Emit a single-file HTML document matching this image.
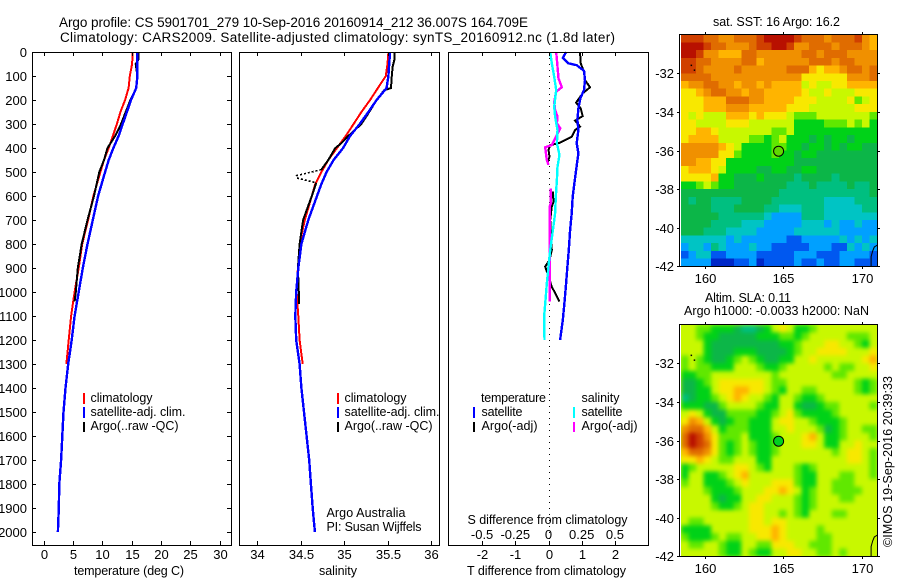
<!DOCTYPE html>
<html lang="en">
<head>
<meta charset="utf-8">
<title>Argo profile</title>
<style>
html,body{margin:0;padding:0;background:#fff;}
svg{display:block;}
text{font-family:"Liberation Sans",sans-serif;font-size:12.5px;fill:#000;}
.title{font-size:13.5px;}
.tick{font-size:13px;}
</style>
</head>
<body>
<svg id="chart" xmlns="http://www.w3.org/2000/svg" width="900" height="580" viewBox="0 0 900 580">
  <defs>
    <filter id="sla-blur" x="-5%" y="-5%" width="110%" height="110%" color-interpolation-filters="sRGB"><feGaussianBlur stdDeviation="2"/></filter>
    <clipPath id="clip-sst"><rect x="681" y="35" width="196" height="231"/></clipPath>
    <clipPath id="clip-sla"><rect x="681" y="325" width="196" height="231"/></clipPath>
  </defs>
  <text class="title" x="59" y="27" textLength="469">Argo profile: CS 5901701_279 10-Sep-2016 20160914_212 36.007S 164.709E</text>
  <text class="title" x="60" y="42" textLength="555">Climatology: CARS2009. Satellite-adjusted climatology: synTS_20160912.nc (1.8d later)</text>

  <g id="profile-layer"></g>
  <g id="map-layer"></g>

  <text x="74" y="575" textLength="110">temperature (deg C)</text>
  <text x="319" y="575" textLength="38">salinity</text>
  <text x="467" y="575" textLength="159">T difference from climatology</text>
  <text x="467.5" y="524" textLength="160">S difference from climatology</text>

  <g>
    <rect x="83" y="393" width="2" height="11" fill="#ff0000"/>
    <rect x="83" y="407" width="2" height="11" fill="#0000ff"/>
    <rect x="83" y="422" width="2" height="10" fill="#000"/>
    <text x="90.5" y="402" textLength="62">climatology</text>
    <text x="90.5" y="416" textLength="95">satellite-adj. clim.</text>
    <text x="90.5" y="430" textLength="88">Argo(..raw -QC)</text>
  </g>
  <g>
    <rect x="337" y="393" width="2" height="11" fill="#ff0000"/>
    <rect x="337" y="407" width="2" height="11" fill="#0000ff"/>
    <rect x="337" y="422" width="2" height="10" fill="#000"/>
    <text x="344.5" y="402" textLength="62">climatology</text>
    <text x="344.5" y="416" textLength="95">satellite-adj. clim.</text>
    <text x="344.5" y="430" textLength="88">Argo(..raw -QC)</text>
  </g>
  <text x="326.5" y="517" textLength="79">Argo Australia</text>
  <text x="326.5" y="531" textLength="95">PI: Susan Wijffels</text>
  <g>
    <text x="481" y="402" textLength="65">temperature</text>
    <text x="581.5" y="402" textLength="38">salinity</text>
    <rect x="473" y="407" width="2" height="11" fill="#0000ff"/>
    <rect x="473" y="422" width="2" height="10" fill="#000"/>
    <rect x="573" y="407" width="2" height="11" fill="#00ffff"/>
    <rect x="573" y="422" width="2" height="10" fill="#ff00ff"/>
    <text x="481.5" y="416" textLength="41">satellite</text>
    <text x="481.5" y="430" textLength="56">Argo(-adj)</text>
    <text x="581.5" y="416" textLength="41">satellite</text>
    <text x="581.5" y="430" textLength="56">Argo(-adj)</text>
  </g>

  <text x="713" y="26" textLength="127">sat. SST: 16 Argo: 16.2</text>
  <text x="705" y="302" textLength="86">Altim. SLA: 0.11</text>
  <text x="684" y="315" textLength="185">Argo h1000: -0.0033 h2000: NaN</text>
  <text transform="translate(892,547) rotate(-90)" textLength="171">©IMOS 19-Sep-2016 20:39:33</text>
</svg>

<script>
// ---------- Temperature panel data ----------
const climDepth = [0,50,100,150,200,250,300,350,400,450,500,550,600,700,800,900,1000,1100,1200,1300];
const climTemp = [15.2,15.1,14.7,14.5,13.9,13.1,12.5,11.8,11.1,10.3,9.7,9.1,8.5,7.6,6.6,6.0,5.3,4.7,4.3,3.9];
const climSal = [35.51,35.50,35.48,35.39,35.30,35.20,35.11,35.02,34.92,34.82,34.74,34.67,34.63,34.55,34.49,34.47,34.455,34.475,34.49,34.525];

const satDepth = [0,50,100,150,200,250,300,350,400,450,500,550,600,700,800,900,1000,1100,1200,1300,1400,1500,1600,1700,1800,1900,2000];
const satTemp = [16.0,16.0,16.0,15.8,14.9,14.2,13.5,12.8,11.9,11.1,10.5,9.9,9.3,8.4,7.5,6.7,6.0,5.3,4.8,4.2,3.75,3.4,3.2,3.0,2.7,2.6,2.45];
const satSal = [35.53,35.52,35.51,35.49,35.375,35.28,35.18,35.07,34.99,34.88,34.80,34.74,34.69,34.59,34.51,34.475,34.45,34.44,34.45,34.49,34.51,34.54,34.57,34.60,34.62,34.64,34.665];

const argoTempDepth = [0,30,50,100,150,200,250,300,350,400,450,500,600,700,800,900,1000,1040];
const argoTemp = [16.2,16.2,15.7,16.0,15.8,14.8,14.0,13.2,12.2,10.9,10.3,9.5,8.6,7.5,6.5,5.85,5.5,5.3];

const argoSalDepthA = [0,30,60,100,150,160,200,250,300,350,380,400,450,490];
const argoSalA = [35.58,35.58,35.56,35.55,35.54,35.46,35.375,35.29,35.20,35.05,34.97,34.90,34.82,34.74];
const argoSalSpikeDepth = [490,515,525,545];
const argoSalSpike = [34.74,34.455,34.46,34.68];
const argoSalDepthB = [545,600,700,800,900,1000,1050];
const argoSalB = [34.68,34.63,34.53,34.49,34.47,34.48,34.485];

// ---------- Difference panel data ----------
const dSatTDepth = [0,25,47,55,78,117,158,193,235,283,325,380,422,492,547,603,672,742,825,894,964,1047,1117,1200];
const dSatT = [0.53,0.43,0.60,0.85,1.07,1.10,1.07,0.96,0.90,0.87,0.90,0.85,0.90,0.83,0.78,0.73,0.70,0.65,0.61,0.57,0.53,0.48,0.43,0.35];
const dSatSDepth = [0,47,103,158,228,269,325,380,429,478,533,603,672,742,825,894,964,1019,1103,1200];
const dSatS = [0.013,0.025,0.043,0.058,0.043,0.05,0.068,0.063,0.083,0.068,0.063,0.055,0.05,0.033,0.013,0,-0.013,-0.02,-0.033,-0.03];
const dArgoTDepthA = [0,47,82,117,147,172,211,235,267,286,311,325,353,378,388,408,436,464];
const dArgoTA = [0.95,0.97,1.07,1.10,1.25,1.03,0.83,0.97,1.03,0.80,0.95,0.80,0.70,0.35,0.05,0,0.03,-0.03];
const dArgoTDepthB = [582,624,644,700,825,867,894,922,978,1040];
const dArgoTB = [0.13,0.15,0.10,0.05,0.10,0.03,-0.10,-0.03,0.10,0.33];
const dArgoSDepthA = [0,61,110,147,165,207,242,269,297,318,360,388,397,450,471];
const dArgoSA = [0.058,0.068,0.075,0.10,0.058,0.043,0.05,0.068,0.063,0.088,0.05,0.025,-0.025,-0.013,0];
const dArgoSDepthB = [568,630,644,769,853,922,1040];
const dArgoSB = [0.018,0.018,0.008,0.008,0.008,0.008,0.008];

// ---------- Tick labels ----------
const depthTicks = [0,100,200,300,400,500,600,700,800,900,1000,1100,1200,1300,1400,1500,1600,1700,1800,1900,2000];
const tempTicks = [0,5,10,15,20,25,30];
const salTicks = [34,34.5,35,35.5,36];
const dTTicks = [-2,-1,0,1,2];
const dSTicks = [-0.5,-0.25,0,0.25,0.5];
const lonTicks = [160,165,170];
const latTicks = [-32,-34,-36,-38,-40,-42];

// ---------- Map data (colour level per grid cell) ----------
const levelColors = ['#0028c8','#0058f0','#00a0ff','#00c4c4','#00bf80','#0cb648','#00d218','#60e800','#c8f800','#f8e800','#ffb400','#f09000','#e06c00','#d04000','#b81000'];
const argoLon = 164.709;
const argoLat = -36.007;
const sstLevels = [
[13,13,13,12,12,11,11,12,12,12,13,14,14,14,14,13,12,12,12,11,12,12,12,13,11,10],
[14,14,14,13,12,12,11,11,11,12,13,13,14,14,13,11,11,12,12,12,11,12,12,12,11,10],
[14,14,13,11,11,10,10,10,12,12,11,11,11,11,11,11,12,12,11,12,12,12,11,11,11,11],
[13,13,12,12,11,11,11,11,12,12,10,11,11,11,11,11,11,12,12,12,11,12,12,11,11,11],
[13,13,12,11,11,11,11,12,11,11,11,11,11,11,12,12,12,10,9,10,10,11,12,12,11,12],
[12,12,12,12,11,11,11,11,11,11,11,11,11,11,11,11,9,9,9,9,9,9,11,11,11,12],
[10,11,11,12,12,11,11,10,11,11,10,11,10,10,10,10,8,9,8,8,9,9,10,10,10,10],
[9,9,10,11,12,12,11,11,10,11,11,10,10,10,10,10,9,8,8,9,8,8,8,9,9,9],
[9,9,9,10,10,10,12,12,12,11,11,10,10,10,10,9,9,9,8,8,8,8,9,7,8,9],
[9,9,9,10,10,10,11,11,11,10,10,10,10,10,9,9,9,8,8,8,8,8,8,9,9,9],
[9,8,9,8,8,8,10,10,10,9,10,9,9,9,8,7,7,7,8,8,8,8,8,8,8,7],
[9,9,8,8,8,8,9,9,9,8,8,8,8,8,8,6,6,6,6,7,7,7,8,7,8,6],
[9,9,10,10,9,8,8,8,8,8,8,8,7,7,8,6,6,6,6,6,6,6,6,6,6,6],
[9,10,10,10,10,8,8,8,8,7,7,6,7,8,6,6,6,5,6,5,6,6,5,6,6,6],
[11,11,11,11,11,10,9,8,6,6,6,6,7,7,6,6,5,6,6,5,6,5,6,6,5,5],
[11,11,11,11,11,9,9,7,6,6,6,6,7,6,6,5,6,6,5,5,5,5,5,5,5,5],
[11,11,10,10,9,9,6,6,6,6,6,6,6,6,6,5,5,5,5,5,5,5,5,5,5,5],
[9,10,10,10,9,8,6,6,6,6,5,5,6,6,5,5,6,6,5,5,5,5,5,5,5,5],
[9,9,9,9,10,6,6,5,5,5,6,5,5,5,5,4,5,5,5,5,4,5,5,5,5,5],
[6,6,7,8,7,6,6,5,5,5,5,5,5,5,4,4,4,5,4,4,4,4,5,4,4,5],
[5,5,5,5,5,5,5,5,5,5,5,5,5,4,4,4,4,4,4,4,4,4,4,4,4,5],
[5,4,5,5,4,4,4,4,5,5,5,5,4,4,4,4,4,4,4,3,3,3,3,4,4,4],
[5,5,5,5,4,4,4,5,5,5,5,4,4,3,3,3,4,4,4,3,3,3,3,3,4,4],
[5,5,5,5,5,4,4,4,4,4,4,3,2,2,2,2,4,4,4,3,3,3,3,3,3,3],
[5,5,5,5,4,4,4,4,3,3,3,2,2,2,2,2,3,3,3,2,3,2,2,3,2,2],
[5,5,5,4,4,4,3,3,3,3,2,2,2,2,2,3,3,3,3,3,3,2,2,2,2,2],
[3,3,3,3,3,3,2,3,2,2,2,2,2,2,1,1,2,2,2,2,2,3,2,3,2,3],
[2,3,3,2,4,3,2,2,2,3,2,2,1,1,1,1,1,2,2,2,1,1,3,2,3,2],
[1,2,3,3,1,1,2,2,2,2,1,1,1,1,1,2,2,2,1,1,1,2,2,2,2,1],
[2,2,2,2,0,0,0,1,1,2,0,1,1,1,1,2,1,1,2,1,1,2,2,1,1,1]
];
const slaLevels = [
[8,8,7,7,6,6,6,5,4,4,5,6,8,9,8,6,6,7,8,8,8,8,8,8,8,8],
[8,8,7,6,6,5,5,5,5,5,6,6,6,7,7,6,7,8,8,8,8,8,7,7,7,8],
[8,8,8,6,5,5,5,5,5,5,5,5,5,6,6,7,8,8,8,9,9,8,8,7,6,8],
[8,8,8,6,5,5,5,6,6,6,5,5,5,5,6,7,8,8,9,9,9,9,8,8,8,9],
[7,8,7,6,5,5,6,7,8,7,6,5,5,6,6,8,8,9,8,8,8,8,8,8,9,10],
[7,8,7,7,6,6,6,8,8,8,7,6,6,7,8,8,8,8,8,7,8,7,7,8,8,9],
[6,6,7,7,8,8,8,8,8,8,8,8,7,8,8,8,8,8,8,8,7,7,8,8,8,8],
[5,5,6,7,8,9,9,9,9,9,9,8,7,7,8,8,8,8,8,8,8,8,8,7,6,7],
[5,5,6,6,8,9,9,10,10,9,9,8,7,6,8,8,7,7,8,8,8,8,8,7,6,7],
[4,5,6,6,7,8,9,10,9,8,8,7,6,8,8,7,6,6,7,8,8,8,8,8,8,8],
[6,6,6,5,5,7,8,8,8,8,7,6,6,8,8,6,5,5,6,7,7,8,8,8,8,7],
[8,9,8,6,5,5,7,7,7,7,6,6,7,8,9,7,6,6,6,6,7,8,8,8,8,8],
[9,11,10,8,6,5,6,7,7,6,6,6,8,9,9,8,8,7,6,6,6,7,8,8,8,8],
[11,12,12,10,8,6,7,7,7,6,6,6,8,8,9,8,8,8,7,5,6,7,8,8,7,7],
[12,14,13,11,9,7,7,7,8,6,6,6,7,8,8,8,9,10,8,6,6,7,8,8,8,7],
[12,14,13,12,9,7,6,7,8,7,6,6,7,8,8,8,9,9,8,6,6,8,8,9,8,8],
[10,12,12,11,9,7,6,7,8,7,6,6,7,8,8,8,8,8,8,8,7,8,9,9,8,7],
[9,9,10,9,8,7,7,8,8,8,6,6,8,8,8,8,8,8,8,8,8,8,9,9,8,7],
[6,7,8,8,8,8,8,9,9,8,7,6,8,8,8,7,6,7,8,8,8,8,8,8,8,7],
[6,8,8,6,6,7,8,9,10,8,8,8,8,8,8,7,6,6,8,8,8,7,7,8,8,7],
[7,8,8,6,6,6,7,8,9,8,8,8,9,9,9,7,6,6,8,8,7,7,7,8,8,8],
[8,8,8,7,6,6,6,7,8,8,8,9,9,10,9,8,6,7,8,8,7,7,7,7,8,8],
[8,8,8,8,6,5,6,6,8,8,9,9,8,8,8,7,6,7,8,8,8,7,7,8,8,8],
[8,8,8,8,7,6,6,7,8,9,9,8,8,8,8,7,6,7,8,8,8,8,8,8,8,8],
[8,8,8,8,8,8,8,8,8,9,9,8,8,7,8,7,6,8,8,8,7,7,8,8,8,8],
[8,7,7,8,8,8,8,8,8,9,9,8,9,9,8,8,8,8,8,8,8,8,8,8,8,8],
[6,6,6,6,8,8,8,8,8,9,9,9,10,9,8,8,8,8,7,8,8,8,8,8,8,8],
[7,6,6,6,7,8,7,7,8,8,9,9,10,9,8,8,8,8,7,7,8,8,8,8,8,8],
[8,7,7,8,8,7,6,6,8,8,7,7,9,9,9,8,8,7,7,7,8,8,8,8,8,8],
[8,8,8,8,8,7,6,6,8,7,6,6,8,8,9,9,8,8,7,7,8,7,8,8,8,8]
];
const coastLon = [170.6,170.6,170.7,170.8,171];
const coastLat = [-42,-41.5,-41.2,-41.0,-40.9];
const islandLon = [159.1,159.3];
const islandLat = [-31.55,-31.8];

// ---------- Axis functions ----------
const NS = 'http://www.w3.org/2000/svg';
const TOP = 52, BOT = 545;
const yDepth = d => 52 + d * 0.24;
const xTemp = t => 43.5 + t * 5.87;
const xSal = s => 257 + (s - 34) * 87;
const xDT = t => 548.5 + t * 33.2;
const xDS = s => 548.5 + s * 132.8;
const xLon = lon => 704.7 + (lon - 160) * 15.7;
const yLat = (lat, top) => top + (-30 - lat) * 19.3;

const profiles = document.getElementById('profile-layer');
const maps = document.getElementById('map-layer');

function make(tag, parent, attrs) {
  const el = document.createElementNS(NS, tag);
  for (const k in attrs) el.setAttribute(k, attrs[k]);
  parent.appendChild(el);
  return el;
}

function drawSeries(parent, name, depths, values, xFn, color, width, dash) {
  const pts = depths.map((d, i) => xFn(values[i]).toFixed(1) + ',' + yDepth(d).toFixed(1)).join(' ');
  const el = make('polyline', parent, {points: pts, fill: 'none', stroke: color, 'stroke-width': width, 'shape-rendering': 'crispEdges'});
  
  
  if (dash) el.setAttribute('stroke-dasharray', dash);
}

function drawFrame(parent, name, x0, x1, y0, y1) {
  const el = make('rect', parent, {x: x0 + 0.5, y: y0 + 0.5, width: x1 - x0, height: y1 - y0, fill: 'none', stroke: '#000', 'stroke-width': 1, 'shape-rendering': 'crispEdges'});
  
  
}

function drawTick(parent, x1, y1, x2, y2) {
  const el = make('line', parent, {x1: x1, y1: y1, x2: x2, y2: y2, stroke: '#000', 'stroke-width': 1, 'shape-rendering': 'crispEdges'});
  
  
}

function drawLabel(parent, txt, x, y, anchor) {
  const el = make('text', parent, {x: x, y: y, 'text-anchor': anchor, class: 'tick'});
  el.textContent = txt;
  
  
}

function xTicks(parent, ticks, xFn, labelY, fmt) {
  ticks.forEach(t => {
    const x = Math.round(xFn(t)) + 0.5;
    drawTick(parent, x, TOP, x, TOP + 4);
    drawTick(parent, x, BOT, x, BOT - 4);
    if (labelY) drawLabel(parent, fmt ? fmt(t) : String(t), x, labelY, 'middle');
  });
}

// ---------- Temperature panel ----------
const p1 = make('g', profiles, {});


drawSeries(p1, 'temperature-climatology-line', climDepth, climTemp, xTemp, '#ff0000', 2);
drawSeries(p1, 'temperature-argo-line', argoTempDepth, argoTemp, xTemp, '#000000', 2);
drawSeries(p1, 'temperature-satellite-line', satDepth, satTemp, xTemp, '#0000ff', 2.4);
drawFrame(p1, 'temperature-panel-frame', 32, 231, TOP, BOT);
xTicks(p1, tempTicks, xTemp, 559);
depthTicks.forEach(d => {
  const y = Math.round(yDepth(d)) + 0.5;
  drawTick(p1, 32, y, 36, y);
  drawTick(p1, 231, y, 227, y);
  drawLabel(p1, String(d), 27, y + 4.5, 'end');
});

// ---------- Salinity panel ----------
const p2 = make('g', profiles, {});


drawSeries(p2, 'salinity-climatology-line', climDepth, climSal, xSal, '#ff0000', 2);
drawSeries(p2, 'salinity-argo-line-upper', argoSalDepthA, argoSalA, xSal, '#000000', 2);
drawSeries(p2, 'salinity-argo-spike', argoSalSpikeDepth, argoSalSpike, xSal, '#000000', 1.6, '2 2');
drawSeries(p2, 'salinity-argo-line-lower', argoSalDepthB, argoSalB, xSal, '#000000', 2);
drawSeries(p2, 'salinity-satellite-line', satDepth, satSal, xSal, '#0000ff', 2.4);
drawFrame(p2, 'salinity-panel-frame', 239, 439, TOP, BOT);
xTicks(p2, salTicks, xSal, 559);

// ---------- Difference panel ----------
const p3 = make('g', profiles, {});


const zero = make('line', p3, {x1: Math.round(xDT(0)) + 0.5, y1: TOP, x2: Math.round(xDT(0)) + 0.5, y2: BOT, stroke: '#000', 'stroke-width': 1, 'stroke-dasharray': '1 5', 'shape-rendering': 'crispEdges'});


drawSeries(p3, 'argo-t-difference-upper', dArgoTDepthA, dArgoTA, xDT, '#000000', 2);
drawSeries(p3, 'argo-t-difference-lower', dArgoTDepthB, dArgoTB, xDT, '#000000', 2);
drawSeries(p3, 'satellite-t-difference', dSatTDepth, dSatT, xDT, '#0000ff', 2.4);
drawSeries(p3, 'argo-s-difference-upper', dArgoSDepthA, dArgoSA, xDS, '#ff00ff', 2.4);
drawSeries(p3, 'argo-s-difference-lower', dArgoSDepthB, dArgoSB, xDS, '#ff00ff', 2.4);
drawSeries(p3, 'satellite-s-difference', dSatSDepth, dSatS, xDS, '#00ffff', 2.4);
drawFrame(p3, 'difference-panel-frame', 448, 648, TOP, BOT);
xTicks(p3, dTTicks, xDT, 559);
dSTicks.forEach(s => {
  drawLabel(p3, String(s), xDS(s), 539, 'middle');
});

// ---------- Maps ----------
function drawMap(name, levels, top, clipId, blur, markerColor) {
  const g = make('g', maps, {});
  
  

  const lonW = xLon(170.97);
  const x0 = 681, nCols = levels[0].length, nRows = levels.length;
  const lonStart = 160 + (x0 - xLon(160)) / 15.7;
  const lonStep = (170.97 - lonStart) / nCols;
  const latStep = 12 / nRows;

  const holder = make('g', g, {'clip-path': 'url(#' + clipId + ')'});
  
  
  const bg = make('rect', holder, {x: x0, y: yLat(-30, top), width: lonW - x0, height: yLat(-42, top) - yLat(-30, top), fill: levelColors[8]});
  
  
  const cells = make('g', holder, blur ? {filter: 'url(#sla-blur)'} : {'shape-rendering': 'crispEdges'});
  levels.forEach((row, r) => row.forEach((v, c) => {
    const xa = xLon(lonStart + c * lonStep), xb = xLon(lonStart + (c + 1) * lonStep);
    const ya = yLat(-30 - r * latStep, top), yb = yLat(-30 - (r + 1) * latStep, top);
    const cell = make('rect', cells, {x: xa.toFixed(2), y: ya.toFixed(2), width: (xb - xa + 0.6).toFixed(2), height: (yb - ya + 0.6).toFixed(2), fill: levelColors[Math.max(0, Math.min(levelColors.length - 1, Math.round(v)))]});
    
    
  }));

  const coast = make('polyline', holder, {points: coastLon.map((l, i) => xLon(l).toFixed(1) + ',' + yLat(coastLat[i], top).toFixed(1)).join(' '), fill: 'none', stroke: '#000', 'stroke-width': 1});
  
  
  islandLon.forEach((l, i) => {
    const dot = make('rect', holder, {x: xLon(l).toFixed(1), y: yLat(islandLat[i], top).toFixed(1), width: 1.5, height: 1.5, fill: '#000'});
    
    
  });

  const marker = make('circle', g, {cx: xLon(argoLon).toFixed(1), cy: (yLat(argoLat, top) + 0.6).toFixed(1), r: 5, fill: markerColor, stroke: '#000', 'stroke-width': 1});
  
  

  const yT = Math.round(yLat(-30, top)), yB = Math.round(yLat(-42, top));
  const frame = make('rect', g, {x: 679.5, y: yT - 0.5, width: 198, height: yB - yT + 1, fill: 'none', stroke: '#000', 'stroke-width': 1, 'shape-rendering': 'crispEdges'});
  
  

  lonTicks.forEach(l => {
    const x = Math.round(xLon(l)) + 0.5;
    drawTick(g, x, yT - 3, x, yT);
    drawTick(g, x, yB, x, yB + 3);
    drawLabel(g, String(l), x, yB + 17, 'middle');
  });
  latTicks.forEach(l => {
    const y = Math.round(yLat(l, top)) + 0.5;
    drawTick(g, 677, y, 680, y);
    drawTick(g, 877, y, 880, y);
    drawLabel(g, String(l), 674, y + 4.5, 'end');
  });
}
drawMap('sst-map', sstLevels, 34.7, 'clip-sst', false, '#60d800');
drawMap('sla-map', slaLevels, 324.7, 'clip-sla', true, '#00d020');
</script>
</body>
</html>
